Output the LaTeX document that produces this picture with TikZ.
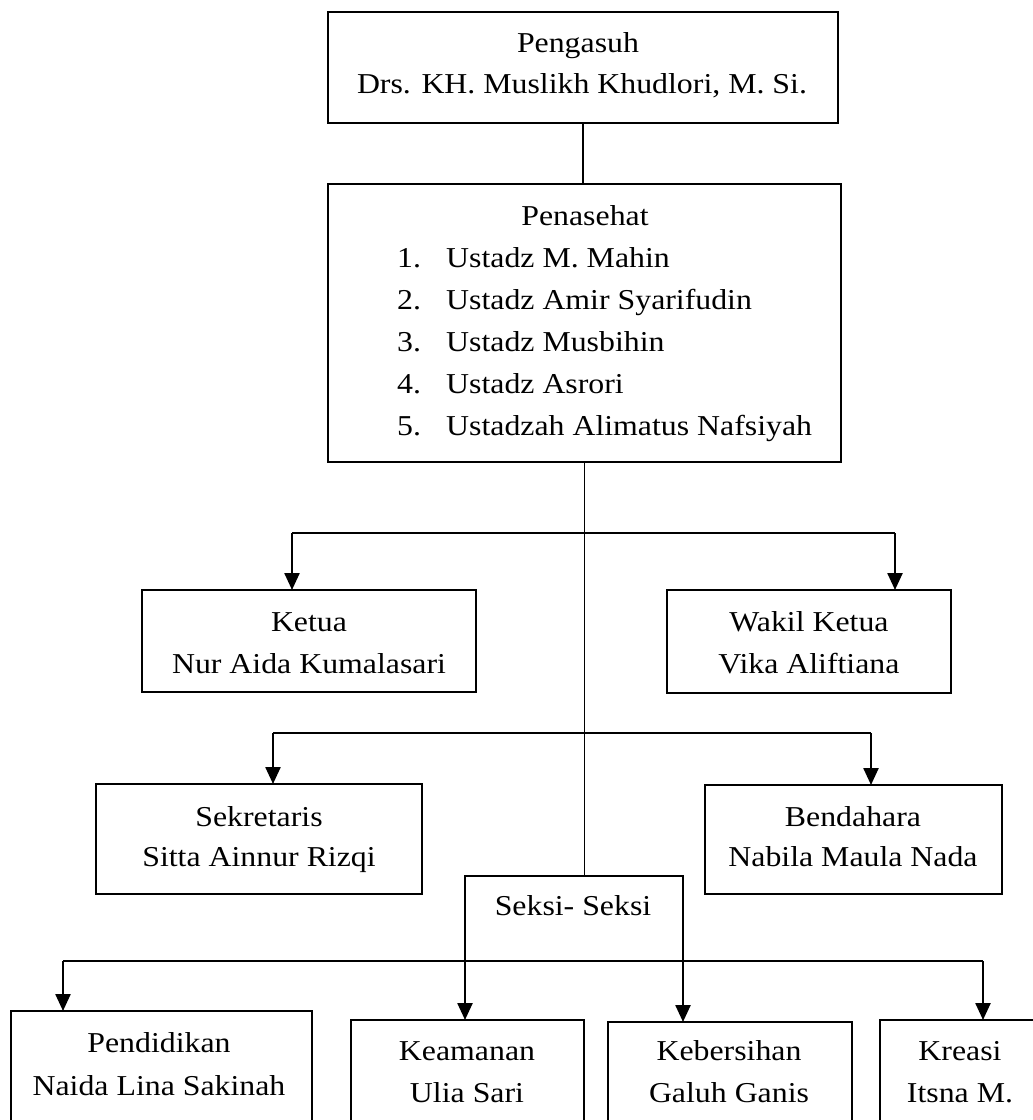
\documentclass[tikz,border=0pt]{standalone}
\usepackage{fontspec}
\setmainfont{Liberation Serif}[FakeStretch=1.105]
\usetikzlibrary{arrows.meta}
\begin{document}
\begin{tikzpicture}[x=1pt,y=-1pt,
  box/.style={draw, line width=1.7pt, anchor=north west, inner sep=0pt, outer sep=0pt},
  txt/.style={anchor=base, inner sep=0pt, font=\fontsize{28.8pt}{42pt}\selectfont},
  item/.style={txt, anchor=base west},
  ln/.style={line width=1.8pt},
  hl/.style={line width=2pt},
  arr/.style={line width=2.4pt, -{Triangle[length=17pt,width=15pt]}}]
\useasboundingbox (0,0) rectangle (1033,1120);
\fill[white] (0,0) rectangle (1033,1120);
\clip (0,0) rectangle (1033,1120);
% boxes
\node[box, minimum width=510pt, minimum height=111pt] (pengasuh) at (328,12) {};
\node[box, minimum width=513pt, minimum height=278pt] (penasehat) at (328,184) {};
\node[box, minimum width=334pt, minimum height=102pt] (ketua) at (142,590) {};
\node[box, minimum width=284pt, minimum height=103pt] (wakil) at (667,590) {};
\node[box, minimum width=326pt, minimum height=110pt] (sekretaris) at (96,784) {};
\node[box, minimum width=297pt, minimum height=109pt] (bendahara) at (705,785) {};
\node[box, minimum width=218pt, minimum height=85pt] (seksi) at (465,876) {};
\node[box, minimum width=301pt, minimum height=140pt] (pendidikan) at (11,1011) {};
\node[box, minimum width=233pt, minimum height=130pt] (keamanan) at (351,1020) {};
\node[box, minimum width=244pt, minimum height=130pt] (kebersihan) at (608,1022) {};
\node[box, minimum width=160pt, minimum height=130pt] (kreasi) at (880,1020) {};
% texts
\node[txt] (t1a) at (578,52) {Pengasuh};
\node[txt] (t1b) at (582,93) {Drs. KH. Muslikh Khudlori, M. Si.};
\node[txt] (t2a) at (585,225) {Penasehat};
\node[item] (p1) at (397,267) {\makebox[49pt][l]{1.}Ustadz M. Mahin};
\node[item] (p2) at (397,309) {\makebox[49pt][l]{2.}Ustadz Amir Syarifudin};
\node[item] (p3) at (397,351) {\makebox[49pt][l]{3.}Ustadz Musbihin};
\node[item] (p4) at (397,393) {\makebox[49pt][l]{4.}Ustadz Asrori};
\node[item] (p5) at (397,435) {\makebox[49pt][l]{5.}Ustadzah Alimatus Nafsiyah};
\node[txt] (t3a) at (309,631) {Ketua};
\node[txt] (t3b) at (309,673) {Nur Aida Kumalasari};
\node[txt] (t4a) at (809,631) {Wakil Ketua};
\node[txt] (t4b) at (809,673) {Vika Aliftiana};
\node[txt] (t5a) at (259,826) {Sekretaris};
\node[txt] (t5b) at (259,866) {Sitta Ainnur Rizqi};
\node[txt] (t6a) at (853,826) {Bendahara};
\node[txt] (t6b) at (853,866) {Nabila Maula Nada};
\node[txt] (t7) at (573,915) {Seksi- Seksi};
\node[txt] (t8a) at (159,1052) {Pendidikan};
\node[txt] (t8b) at (159,1095) {Naida Lina Sakinah};
\node[txt] (t9a) at (467,1060) {Keamanan};
\node[txt] (t9b) at (467,1102) {Ulia Sari};
\node[txt] (t10a) at (729,1060) {Kebersihan};
\node[txt] (t10b) at (729,1102) {Galuh Ganis};
\node[txt] (t11a) at (960,1060) {Kreasi};
\node[txt] (t11b) at (960,1102) {Itsna M.};
% junctions
\coordinate (h1l) at (292,533); \coordinate (h1r) at (895,533);
\coordinate (h2l) at (273,733); \coordinate (h2r) at (871,733);
\coordinate (h3l) at (63,961);  \coordinate (h3r) at (983,961);
% connectors
\draw[ln] (pengasuh.south) -- (pengasuh.south |- penasehat.north);
\draw[ln] (penasehat.south) -- (penasehat.south |- seksi.north);
\draw[hl] (h1l) -- (h1r);
\draw[arr] (h1l) -- (h1l |- ketua.north);
\draw[arr] (h1r) -- (h1r |- wakil.north);
\draw[hl] (h2l) -- (h2r);
\draw[arr] (h2l) -- (h2l |- sekretaris.north);
\draw[arr] (h2r) -- (h2r |- bendahara.north);
\draw[hl] (h3l) -- (h3r);
\draw[arr] (h3l) -- (h3l |- pendidikan.north);
\draw[arr] (h3r) -- (h3r |- kreasi.north);
\draw[arr] (seksi.south west) -- (seksi.south west |- keamanan.north);
\draw[arr] (seksi.south east) -- (seksi.south east |- kebersihan.north);
\end{tikzpicture}
\end{document}
